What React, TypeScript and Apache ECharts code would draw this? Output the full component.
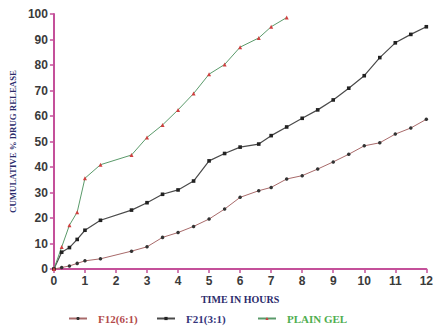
import React, { useEffect, useRef } from "react";
import * as echarts from "echarts";

const hours = [0, 0.25, 0.5, 0.75, 1, 1.5, 2.5, 3, 3.5, 4, 4.5, 5, 5.5, 6, 6.6, 7, 7.5, 8, 8.5, 9, 9.5, 10, 10.5, 11, 11.5, 12];
const f12 = [0, 0.6, 1.2, 2.2, 3.2, 4, 7, 8.7, 12.4, 14.3, 16.7, 19.6, 23.5, 28.1, 30.7, 32, 35.3, 36.6, 39.2, 42, 45, 48.3, 49.5, 52.9, 55.3, 58.7];
const f21 = [0, 6.6, 8.4, 11.6, 15.2, 19.1, 23.1, 26, 29.3, 31, 34.5, 42.4, 45.3, 47.8, 49, 52.3, 55.7, 59.1, 62.4, 66.3, 70.9, 75.8, 82.9, 88.7, 92, 95];
const gelHours = [0, 0.25, 0.5, 0.75, 1, 1.5, 2.5, 3, 3.5, 4, 4.5, 5, 5.5, 6, 6.6, 7, 7.5];
const gel = [0, 8.6, 17.2, 22.3, 35.6, 40.9, 44.7, 51.6, 56.5, 62.4, 68.8, 76.4, 80.2, 87, 90.6, 95, 98.6];
const seriesNames = ["F12(6:1)", "F21(3:1)", "PLAIN GEL"];
const legendColors = ["#b34a4a", "#34347a", "#4fae4f"];

const pair = (xs: number[], ys: number[]) => ys.map((v, i) => [xs[i], v]);

export default function App() {
  const ref = useRef<HTMLDivElement>(null);
  useEffect(() => {
    const chart = echarts.init(ref.current!, null, { renderer: "svg" });
    const axisColor = "#c4509a";
    const legendLefts = [68, 156, 257];
    chart.setOption({
      animation: false,
      backgroundColor: "#ffffff",
      grid: { left: 50, right: 6, top: 14, bottom: 60 },
      xAxis: {
        type: "value",
        min: 0,
        max: 12,
        interval: 1,
        name: "TIME IN HOURS",
        nameLocation: "middle",
        nameGap: 25,
        nameTextStyle: { fontFamily: "Liberation Serif", fontWeight: "bold", fontSize: 10, color: "#2b2b6b" },
        axisLine: { lineStyle: { color: axisColor, width: 2 } },
        axisTick: { length: 4, lineStyle: { color: axisColor, width: 1.5 } },
        axisLabel: { fontFamily: "Liberation Sans", fontWeight: "bold", fontSize: 12, color: "#3a3a3a", margin: 6 },
        splitLine: { show: false },
      },
      yAxis: {
        type: "value",
        min: 0,
        max: 100,
        interval: 10,
        name: "CUMULATIVE % DRUG RELEASE",
        nameLocation: "middle",
        nameGap: 33,
        nameTextStyle: { fontFamily: "Liberation Serif", fontWeight: "bold", fontSize: 8.8, color: "#2b2b6b" },
        axisLine: { show: true, lineStyle: { color: axisColor, width: 2 } },
        axisTick: { show: true, length: 4, lineStyle: { color: axisColor, width: 1.5 } },
        axisLabel: { fontFamily: "Liberation Sans", fontWeight: "bold", fontSize: 12, color: "#3a3a3a", margin: 6 },
        splitLine: { show: false },
      },
      legend: seriesNames.map((n, i) => ({
        left: legendLefts[i],
        top: 313,
        itemWidth: 18,
        itemHeight: 4,
        padding: 0,
        data: [{ name: n }],
        textStyle: { fontFamily: "Liberation Serif", fontWeight: "bold", fontSize: 11, color: legendColors[i], padding: [0, 0, 0, 6] },
      })),
      series: [
        {
          name: seriesNames[0],
          type: "line",
          data: pair(hours, f12),
          symbol: "circle",
          symbolSize: 3.5,
          lineStyle: { color: "#a86a6a", width: 1 },
          itemStyle: { color: "#333333" },
        },
        {
          name: seriesNames[1],
          type: "line",
          data: pair(hours, f21),
          symbol: "rect",
          symbolSize: 3.6,
          lineStyle: { color: "#4a4a4a", width: 1.2 },
          itemStyle: { color: "#222222" },
        },
        {
          name: seriesNames[2],
          type: "line",
          data: pair(gelHours, gel),
          symbol: "triangle",
          symbolSize: 4,
          lineStyle: { color: "#5a9a6a", width: 1 },
          itemStyle: { color: "#d04040" },
        },
      ],
    });
    return () => chart.dispose();
  }, []);
  return <div ref={ref} style={{ width: 436, height: 329, position: "absolute", left: 0, top: 0 }} />;
}
